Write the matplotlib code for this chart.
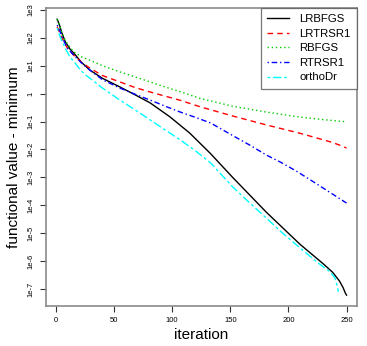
import numpy as np
import matplotlib
matplotlib.use("Agg")
import matplotlib.pyplot as plt
from matplotlib.ticker import FixedLocator, FixedFormatter

plt.rcParams['font.family'] = ['Liberation Sans', 'DejaVu Sans']

# log10(functional value - minimum), per method
lrbfgs_it = [1, 3, 5, 8, 12, 16, 22, 29, 40, 55, 68, 81, 98, 115, 133, 152, 181, 210, 230, 238, 244, 247, 249, 250]
lrbfgs_lg = [2.67, 2.46, 2.18, 1.86, 1.6, 1.42, 1.12, 0.85, 0.55, 0.24, -0.04, -0.33, -0.83, -1.41, -2.15, -3.0,
             -4.25, -5.4, -6.1, -6.4, -6.72, -6.95, -7.15, -7.22]

lrtrsr1_it = [1, 3, 6, 10, 15, 22, 29, 40, 55, 68, 81, 94, 107, 124, 152, 181, 210, 238, 245, 250]
lrtrsr1_lg = [2.4, 2.2, 1.92, 1.62, 1.39, 1.12, 0.92, 0.65, 0.42, 0.22, 0.06, -0.09, -0.24, -0.47, -0.8, -1.12,
              -1.42, -1.75, -1.86, -1.95]

rbfgs_it = [1, 3, 5, 8, 12, 16, 22, 29, 40, 55, 68, 81, 94, 107, 124, 152, 181, 210, 230, 250]
rbfgs_lg = [2.67, 2.46, 2.18, 1.9, 1.66, 1.48, 1.32, 1.2, 1.0, 0.78, 0.6, 0.42, 0.24, 0.07, -0.17, -0.45, -0.66,
            -0.84, -0.93, -1.01]

rtrsr1_it = [1, 3, 6, 10, 15, 22, 29, 40, 55, 68, 81, 94, 107, 120, 133, 152, 167, 181, 193, 207, 220, 235, 250]
rtrsr1_lg = [2.46, 2.28, 1.95, 1.62, 1.39, 1.1, 0.85, 0.5, 0.2, -0.02, -0.23, -0.45, -0.66, -0.85, -1.05, -1.5,
             -1.85, -2.2, -2.45, -2.78, -3.12, -3.52, -3.92]

orthodr_it = [1, 3, 5, 8, 12, 16, 21, 25, 29, 40, 55, 68, 81, 94, 107, 120, 133, 152, 165, 181, 195, 210, 225,
              236, 240, 242, 243]
orthodr_lg = [2.35, 2.1, 1.9, 1.62, 1.32, 1.12, 0.85, 0.68, 0.56, 0.2, -0.23, -0.58, -0.94, -1.3, -1.66, -2.05,
              -2.48, -3.34, -3.85, -4.46, -5.0, -5.53, -6.05, -6.39, -6.6, -6.9, -7.1]

names = ["LRBFGS", "LRTRSR1", "RBFGS", "RTRSR1", "orthoDr"]
series = [(lrbfgs_it, lrbfgs_lg), (lrtrsr1_it, lrtrsr1_lg), (rbfgs_it, rbfgs_lg),
          (rtrsr1_it, rtrsr1_lg), (orthodr_it, orthodr_lg)]
colors = ["black", "#ff0000", "#00cd00", "#0000ff", "#00ffff"]
styles = ["-", (0, (4, 3)), (0, (1, 2)), (0, (1, 2, 4, 2)), (0, (2, 2, 6, 2))]

ytick_exp = [3, 2, 1, 0, -1, -2, -3, -4, -5, -6, -7]
ytick_lab = ["1e3", "1e2", "1e1", "1", "1e-1", "1e-2", "1e-3", "1e-4", "1e-5", "1e-6", "1e-7"]
xticks = [0, 50, 100, 150, 200, 250]

fig = plt.figure(figsize=(3.67, 3.46), dpi=100)
ax = fig.add_axes([46 / 367, 40 / 346, 311 / 367, 298 / 346])

for (it, lg), name, c, ls in zip(series, names, colors, styles):
    ax.plot(it, 10 ** np.array(lg), color=c, linestyle=ls, linewidth=1.0, label=name)

ax.set_yscale("log")
ax.set_xlim(-8.6, 259)
ax.set_ylim(10 ** -7.61, 10 ** 3.07)

ax.yaxis.set_major_locator(FixedLocator([10.0 ** e for e in ytick_exp]))
ax.yaxis.set_major_formatter(FixedFormatter(ytick_lab))
ax.yaxis.set_minor_locator(FixedLocator([]))
ax.set_xticks(xticks)
ax.set_xticklabels([str(v) for v in xticks])

for s in ax.spines.values():
    s.set_color("#8a8a8a")
    s.set_linewidth(1.2)
ax.tick_params(axis="both", length=4, width=0.8, color="#333333", labelsize=5.5, pad=4)
for lab in ax.get_yticklabels():
    lab.set_rotation(90)
    lab.set_va("center")

ax.set_xlabel("iteration", fontsize=11, labelpad=3)
ax.set_ylabel("functional value - minimum", fontsize=11, labelpad=5)

leg = ax.legend(loc="upper right", fontsize=8.2, frameon=True, fancybox=False, borderaxespad=0,
                handlelength=1.9, handletextpad=0.9, labelspacing=0.4, borderpad=0.55)
leg.get_frame().set_edgecolor("#555555")
leg.get_frame().set_linewidth(0.9)

fig.savefig("out.png", dpi=100)
